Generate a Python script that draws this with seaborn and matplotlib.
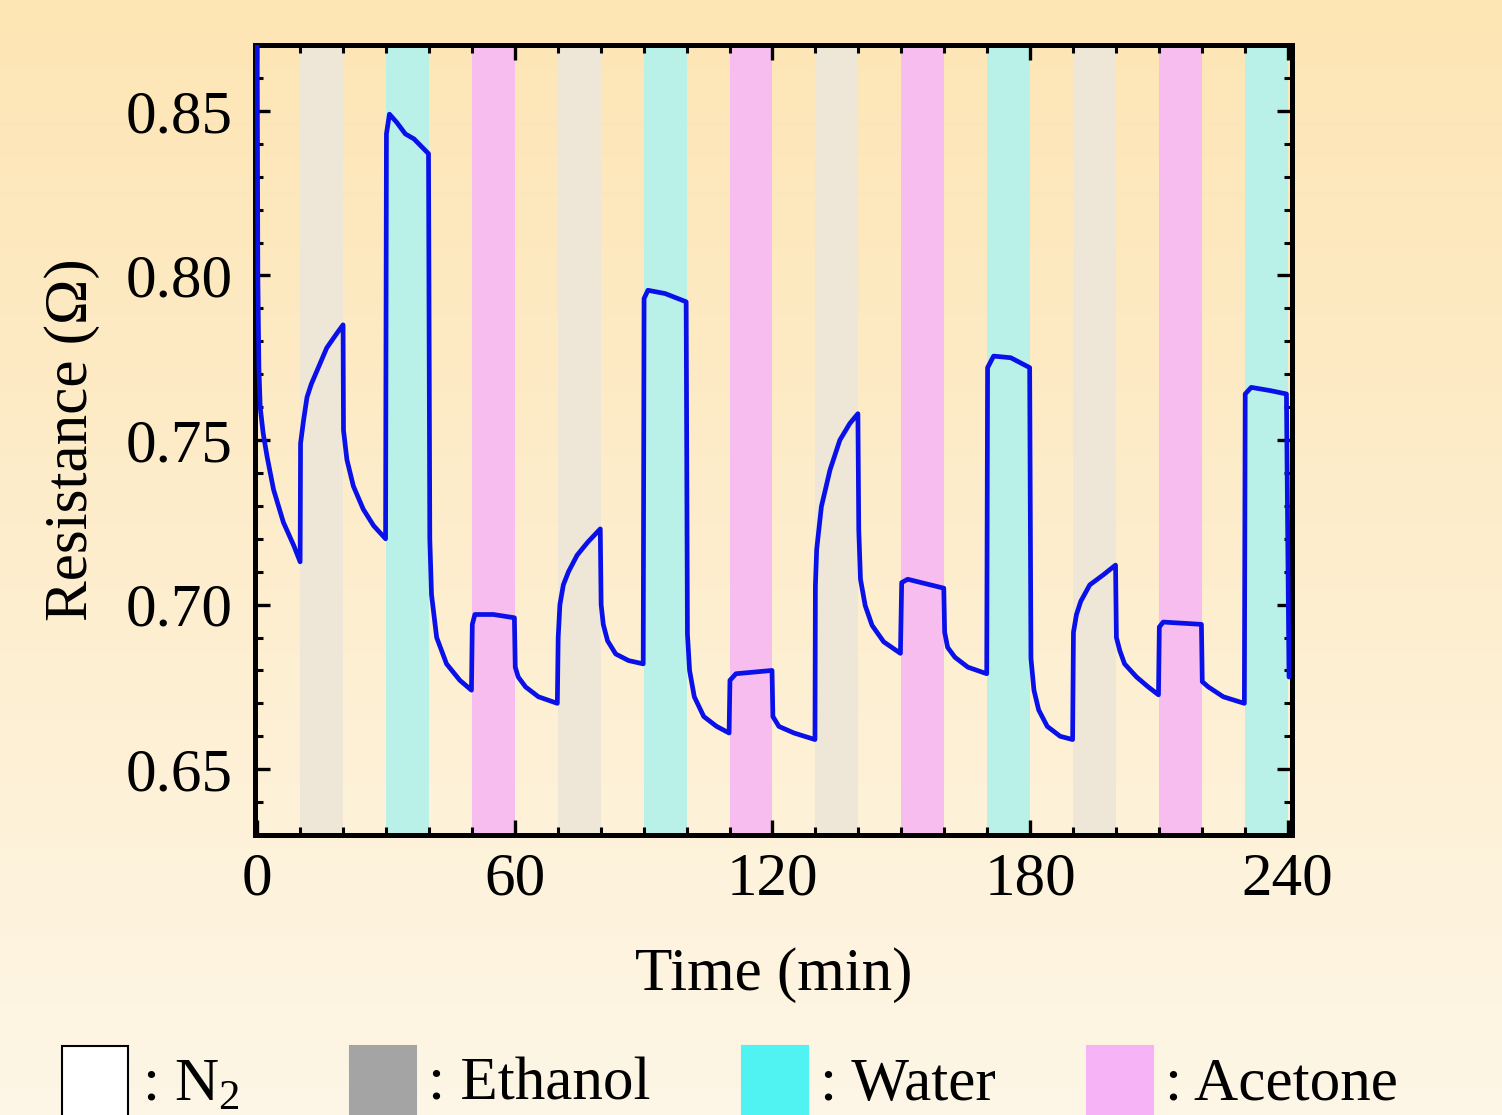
import numpy as np
import pandas as pd
import seaborn as sns
import matplotlib.pyplot as plt
from matplotlib.patches import Rectangle
from matplotlib.ticker import MultipleLocator

# Resistance trace (time in min, resistance in ohm).
time_min = [
    0.0, 0.15, 0.4, 0.7, 1.4, 2.3, 3.8, 6.1, 8.5, 10.0,
    10.1, 10.8, 11.6, 12.6, 13.9, 16.2, 18.6, 20.0,
    20.1, 20.9, 22.4, 24.7, 27.1, 29.9,
    30.1, 30.8, 32.5, 34.5, 36.5, 39.9,
    40.2, 40.6, 41.8, 44.1, 47.2, 49.9,
    50.1, 50.7, 55.0, 59.9,
    60.1, 60.8, 62.5, 65.5, 69.9,
    70.1, 70.5, 71.3, 72.5, 74.5, 77.0, 79.9,
    80.1, 80.6, 81.6, 83.5, 86.5, 89.9,
    90.1, 91.0, 95.0, 99.9,
    100.2, 100.7, 101.8, 104.0, 107.0, 109.9,
    110.1, 111.5, 119.9,
    120.1, 121.5, 125.0, 129.9,
    130.0, 130.3, 131.4, 133.4, 135.7, 138.0, 139.9,
    140.1, 140.5, 141.6, 143.2, 145.9, 149.8,
    150.1, 151.5, 159.9,
    160.1, 160.8, 162.5, 165.5, 169.9,
    170.1, 171.5, 175.5, 179.9,
    180.2, 180.9, 182.0, 184.0, 187.0, 189.9,
    190.1, 190.8, 191.8, 193.9, 197.0, 199.9,
    200.1, 200.9, 202.0, 204.8, 207.5, 209.9,
    210.1, 211.0, 219.9,
    220.1, 221.5, 225.0, 229.9,
    230.1, 231.5, 236.0, 239.7,
    240.0, 240.3,
]
resistance = [
    0.872, 0.800, 0.772, 0.760, 0.752, 0.745, 0.735, 0.725, 0.718, 0.713,
    0.749, 0.756, 0.763, 0.767, 0.771, 0.778, 0.7825, 0.785,
    0.753, 0.744, 0.736, 0.729, 0.724, 0.720,
    0.843, 0.849, 0.8465, 0.843, 0.8415, 0.837,
    0.720, 0.703, 0.690, 0.682, 0.677, 0.674,
    0.694, 0.697, 0.697, 0.696,
    0.681, 0.678, 0.675, 0.672, 0.670,
    0.690, 0.700, 0.706, 0.710, 0.715, 0.719, 0.723,
    0.700, 0.694, 0.689, 0.685, 0.683, 0.682,
    0.793, 0.7955, 0.7945, 0.792,
    0.691, 0.680, 0.672, 0.666, 0.663, 0.661,
    0.677, 0.679, 0.680,
    0.666, 0.663, 0.661, 0.659,
    0.7057, 0.7168, 0.7298, 0.7409, 0.750, 0.755, 0.758,
    0.7228, 0.7077, 0.6997, 0.6937, 0.6887, 0.6852,
    0.7067, 0.7077, 0.705,
    0.6916, 0.687, 0.684, 0.681, 0.679,
    0.772, 0.7755, 0.775, 0.772,
    0.6837, 0.674, 0.668, 0.663, 0.660, 0.659,
    0.6916, 0.697, 0.701, 0.706, 0.709, 0.712,
    0.690, 0.686, 0.682, 0.678, 0.675, 0.6726,
    0.6932, 0.6947, 0.694,
    0.6766, 0.675, 0.672, 0.670,
    0.764, 0.766, 0.765, 0.764,
    0.720, 0.678,
]

# Gas exposure windows (10 min each)
band_start = [10, 30, 50, 70, 90, 110, 130, 150, 170, 190, 210, 230]
band_gas = ["Ethanol", "Water", "Acetone", "Ethanol", "Water", "Acetone",
            "Ethanol", "Acetone", "Water", "Ethanol", "Acetone", "Water"]
band_width = 10

band_colours = {"Ethanol": "#eee7d8", "Water": "#b9f1e8", "Acetone": "#f8bdef"}

legend_labels = [r": N$_\mathregular{2}$", ": Ethanol", ": Water", ": Acetone"]
legend_colours = ["#ffffff", "#a4a4a4", "#50f2f2", "#f6b4f6"]

sns.set_style("ticks")
plt.rcParams["font.family"] = ["Liberation Serif", "DejaVu Serif"]
plt.rcParams["mathtext.fontset"] = "custom"
plt.rcParams["mathtext.rm"] = "Liberation Serif"
plt.rcParams["text.color"] = "black"
plt.rcParams["axes.labelcolor"] = "black"

fig = plt.figure(figsize=(15.02, 11.15), dpi=100)

# Cream/orange gradient background behind everything
bg = fig.add_axes([0, 0, 1, 1], zorder=-10)
top_col = np.array([253, 229, 180]) / 255
bot_col = np.array([253, 246, 230]) / 255
grad = np.linspace(0, 1, 256)[:, None, None]
bg.imshow(top_col * (1 - grad) + bot_col * grad, aspect="auto", extent=[0, 1, 0, 1])
bg.axis("off")

ax = fig.add_axes([0.1698, 0.2511, 0.6904, 0.7085])
ax.set_facecolor("none")

for start, gas in zip(band_start, band_gas):
    ax.axvspan(start, start + band_width, color=band_colours[gas], lw=0, zorder=0)

df = pd.DataFrame({"time": time_min, "resistance": resistance})
sns.lineplot(data=df, x="time", y="resistance", sort=False, estimator=None,
             color="#0a10e8", linewidth=3.4, ax=ax, zorder=3)
ax.lines[-1].set_solid_joinstyle("round")

ax.set_xlim(-0.5, 241)
ax.set_ylim(0.63, 0.87)
ax.xaxis.set_major_locator(MultipleLocator(60))
ax.xaxis.set_minor_locator(MultipleLocator(10))
ax.yaxis.set_major_locator(MultipleLocator(0.05))
ax.yaxis.set_minor_locator(MultipleLocator(0.01))
ax.yaxis.set_major_formatter(plt.FormatStrFormatter("%.2f"))

ax.tick_params(which="both", direction="in", top=True, right=True,
               colors="black", labelcolor="black")
ax.tick_params(which="major", length=11, width=2.4)
ax.tick_params(which="minor", length=6, width=2.2)
ax.tick_params(axis="x", which="major", labelsize=44, pad=12)
ax.tick_params(axis="y", which="major", labelsize=44, pad=16)

for side in ["top", "bottom", "left", "right"]:
    ax.spines[side].set_linewidth(3.6)
    ax.spines[side].set_color("black")

ax.set_xlabel("Time (min)", fontsize=44)
ax.set_ylabel("Resistance (\u03a9)", fontsize=44)
ax.xaxis.set_label_coords(0.5, -0.177)
ax.yaxis.set_label_coords(-0.176, 0.5)
ax.xaxis.label.set_va("center")
ax.yaxis.label.set_va("center")

# Colour key along the bottom edge
box_x = [62, 350, 742, 1087]
text_x = [142, 428, 820, 1165]
W, H = 1502, 1115
for bx, tx, lab, col in zip(box_x, text_x, legend_labels, legend_colours):
    edge = "black" if col == "#ffffff" else col
    fig.add_artist(Rectangle((bx / W, -0.02), 66 / W, 0.02 + (H - 1046) / H,
                             transform=fig.transFigure, facecolor=col,
                             edgecolor=edge, linewidth=1.5))
    fig.text(tx / W, (H - 1100) / H, lab, fontsize=44, va="baseline", ha="left")

plt.savefig("out.png", dpi=100)
